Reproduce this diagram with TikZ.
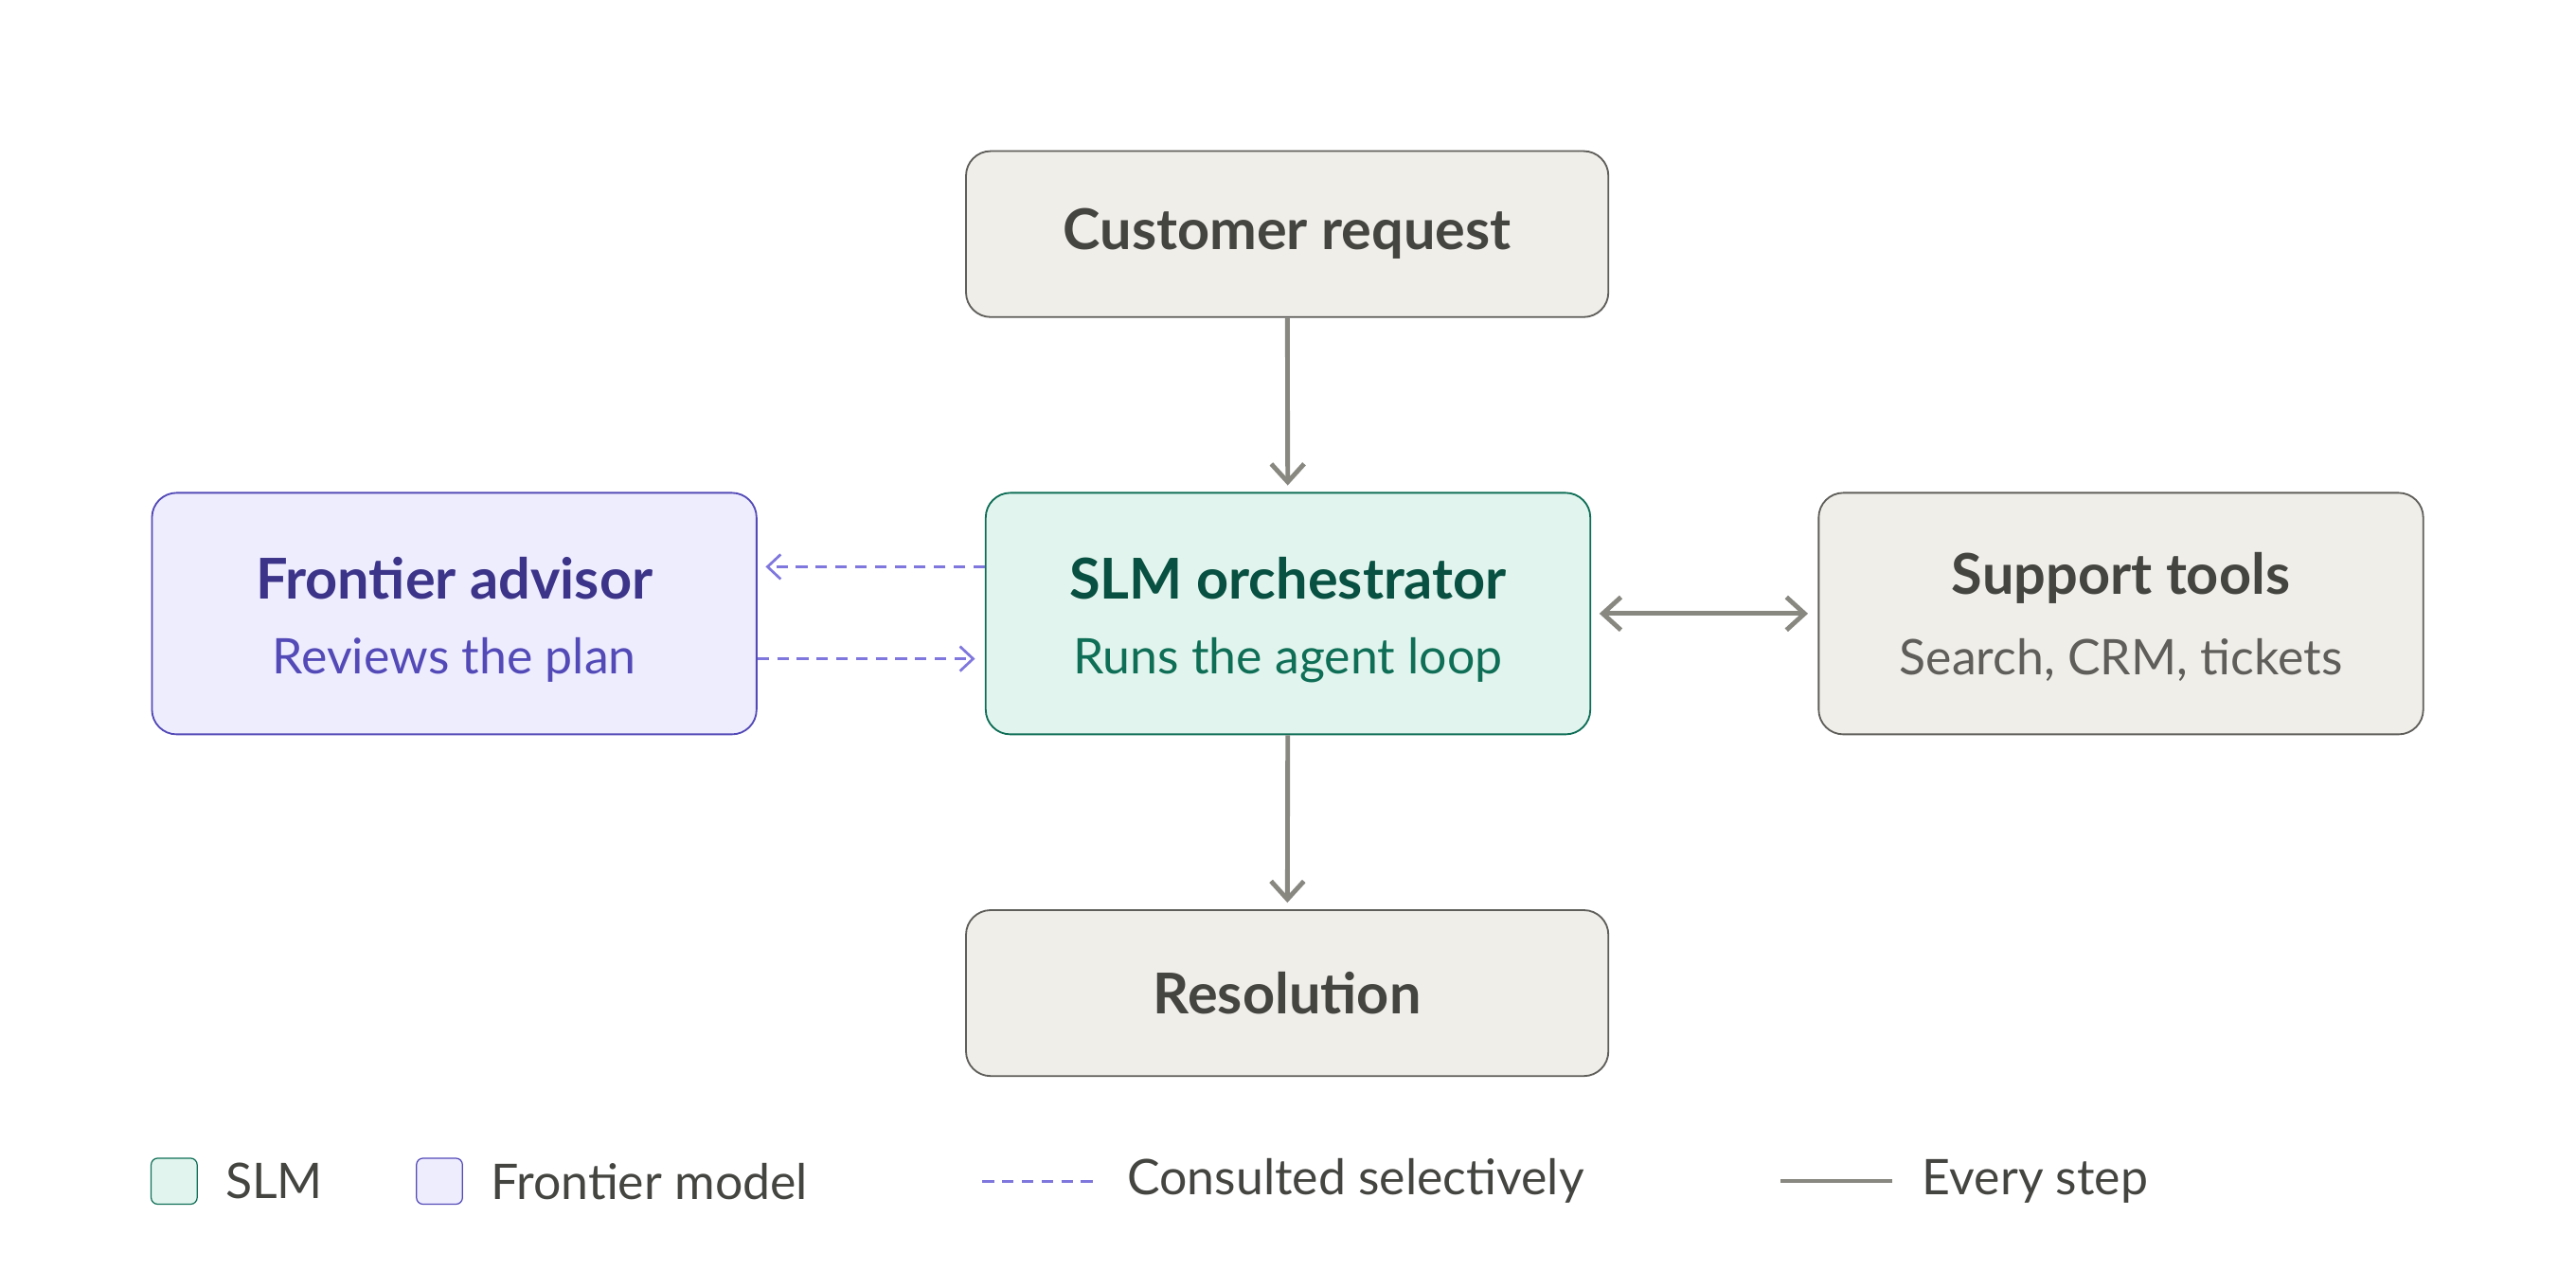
\documentclass[tikz,border=0pt]{standalone}
\usepackage{fontspec}
\setmainfont{Lato}
\usetikzlibrary{arrows.meta}
\definecolor{greyfill}{HTML}{F0EEE9}
\definecolor{greyline}{HTML}{5F5E5A}
\definecolor{greytext}{HTML}{444441}
\definecolor{subtext}{HTML}{5F5E5A}
\definecolor{flowline}{HTML}{888780}
\definecolor{slmfill}{HTML}{E1F5EE}
\definecolor{slmline}{HTML}{0F6E56}
\definecolor{slmtitle}{HTML}{085041}
\definecolor{advfill}{HTML}{EEEDFE}
\definecolor{advline}{HTML}{534AB7}
\definecolor{advtitle}{HTML}{3C3489}
\definecolor{dashline}{HTML}{7F77DD}
\tikzset{
  box/.style={draw=greyline,fill=greyfill,rounded corners=0.3cm,line width=0.6pt,minimum width=7.82cm,minimum height=2.02cm},
  bigbox/.style={box,minimum width=7.36cm,minimum height=2.94cm},
  title/.style={font=\fontsize{19.5}{23}\selectfont\bfseries,text=greytext},
  sub/.style={font=\fontsize{17}{20}\selectfont,text=subtext},
  legend/.style={font=\fontsize{17}{20}\selectfont,text=greytext,anchor=west},
  every step/.style={draw=flowline,line width=1.6pt,-{Straight Barb[length=0.22cm,width=0.4cm]}},
  consulted/.style={draw=dashline,line width=0.9pt,dash pattern=on 0.14cm off 0.1cm,-{Straight Barb[length=0.16cm,width=0.3cm]}}
}
\begin{document}
\begin{tikzpicture}
\useasboundingbox (0,0) rectangle (31.36,15.68);
% Main boxes
\node[box] (request) at (15.67,12.83) {};
\node[title] at (request) {Customer request};
\node[bigbox,draw=slmline,fill=slmfill] (slm) at (15.68,8.21) {};
\node[title,text=slmtitle] (slmname) at (15.68,8.64) {SLM orchestrator};
\node[sub,text=slmline] (slmsub) at (15.68,7.64) {Runs the agent loop};
\node[bigbox,draw=advline,fill=advfill] (advisor) at (5.53,8.21) {};
\node[title,text=advtitle] (advname) at (5.53,8.64) {Frontier advisor};
\node[sub,text=advline] (advsub) at (5.53,7.64) {Reviews the plan};
\node[bigbox] (tools) at (25.82,8.21) {};
\node[title] (toolsname) at (25.82,8.64) {Support tools};
\node[sub] (toolssub) at (25.82,7.64) {Search, CRM, tickets};
\node[box] (resolution) at (15.67,3.59) {};
\node[title] at (resolution) {Resolution};

% Arrows
\draw[every step,shorten >=0.08cm] (request) -- (slm);
\draw[every step,shorten >=0.08cm] (slm) -- (resolution);
\draw[every step,{Straight Barb[length=0.22cm,width=0.4cm]}-{Straight Barb[length=0.22cm,width=0.4cm]},shorten <=0.1cm,shorten >=0.12cm] (slm) -- (tools);
\draw[consulted,shorten >=0.1cm] ([yshift=0.57cm]slm.west) -- ([yshift=0.57cm]advisor.east);
\draw[consulted,shorten >=0.12cm] ([yshift=-0.55cm]advisor.east) -- ([yshift=-0.55cm]slm.west);

% Legend
\node[draw=slmline,fill=slmfill,rounded corners=0.08cm,minimum size=0.56cm,inner sep=0pt] (keyslm) at (2.12,1.3) {};
\node[legend] (keyslmtext) at (2.62,1.3) {SLM};
\node[draw=advline,fill=advfill,rounded corners=0.08cm,minimum size=0.56cm,inner sep=0pt] (keyadv) at (5.35,1.3) {};
\node[legend] (keyadvtext) at (5.85,1.3) {Frontier model};
\coordinate (dashA) at (11.96,1.3);
\coordinate (dashB) at (13.36,1.3);
\draw[draw=dashline,line width=0.9pt,dash pattern=on 0.14cm off 0.1cm] (dashA) -- (dashB);
\node[legend] (keydash) at (13.6,1.3) {Consulted selectively};
\coordinate (stepA) at (21.68,1.3);
\coordinate (stepB) at (23.04,1.3);
\draw[draw=flowline,line width=1.2pt] (stepA) -- (stepB);
\node[legend] (keystep) at (23.28,1.3) {Every step};
\end{tikzpicture}
\end{document}
